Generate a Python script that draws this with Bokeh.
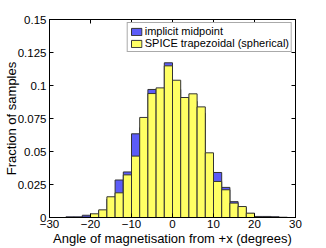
from bokeh.plotting import figure
from bokeh.models import LinearAxis, FixedTicker, CustomJSTickFormatter, Legend, LegendItem, Range1d
from bokeh.embed import file_html
from bokeh.resources import INLINE

# bin edges (degrees)
bin_left = [-26, -24, -22, -20, -18, -16, -14, -12, -10, -8, -6, -4, -2, 0,
            2, 4, 6, 8, 10, 12, 14, 16, 18, 20, 22, 24, 26, 28]
bin_right = [-24, -22, -20, -18, -16, -14, -12, -10, -8, -6, -4, -2, 0, 2,
             4, 6, 8, 10, 12, 14, 16, 18, 20, 22, 24, 26, 28, 30]

implicit_midpoint = [0.0005, 0.0005, 0.0017, 0.0022, 0.0050, 0.0140, 0.0284,
                     0.0345, 0.0634, 0.0680, 0.0970, 0.0900, 0.1172, 0.0970,
                     0.0850, 0.0880, 0.0790, 0.0450, 0.0341, 0.0228, 0.0120,
                     0.0075, 0.0030, 0.0008, 0.0008, 0.0006, 0.0002, 0.0]
spice_trapezoidal = [0.0, 0.0, 0.0003, 0.0028, 0.0058, 0.0157, 0.0187,
                     0.0323, 0.0465, 0.0758, 0.0939, 0.0982, 0.1149, 0.1040,
                     0.0909, 0.0937, 0.0838, 0.0490, 0.0273, 0.0210, 0.0109,
                     0.0083, 0.0033, 0.0, 0.0, 0.0, 0.0, 0.0]

x_ticks = [-30, -20, -10, 0, 10, 20, 30]
y_ticks = [0, 0.025, 0.05, 0.075, 0.1, 0.125, 0.15]
y_tick_labels = ["0", "0.025", "0.05", "0.075", "0.1", "0.125", "0.15"]

FONT = "Liberation Sans"

p = figure(width=326, height=248, output_backend="svg", toolbar_location=None,
           x_range=Range1d(-30, 30), y_range=Range1d(0, 0.15),
           min_border_left=49, min_border_top=19, min_border_right=31, min_border_bottom=31)
p.xgrid.visible = False
p.ygrid.visible = False
p.outline_line_color = "black"
p.outline_line_width = 1

zeros = [0] * len(bin_left)
r_blue = p.quad(left=bin_left, right=bin_right, bottom=zeros, top=implicit_midpoint,
                fill_color="#5c5cf8", line_color="#333333", line_width=1)
r_yel = p.quad(left=bin_left, right=bin_right, bottom=zeros, top=spice_trapezoidal,
               fill_color="#ffff64", line_color="#333333", line_width=1)

def style_axis(ax):
    ax.major_tick_in = 4
    ax.major_tick_out = 0
    ax.minor_tick_line_color = None
    ax.axis_line_color = "black"
    ax.major_tick_line_color = "black"
    ax.major_label_text_font = FONT
    ax.major_label_text_font_size = "11.5px"
    ax.major_label_text_color = "black"
    ax.axis_label_text_font = FONT
    ax.axis_label_text_font_size = "13px"
    ax.axis_label_text_font_style = "normal"
    ax.axis_label_text_color = "black"

xa = p.xaxis[0]
xa.ticker = FixedTicker(ticks=x_ticks)
xa.axis_label = "Angle of magnetisation from +x (degrees)"
style_axis(xa)
xa.major_label_standoff = 2
xa.axis_label_standoff = 0

ya = p.yaxis[0]
ya.ticker = FixedTicker(ticks=y_ticks)
ya.major_label_overrides = {t: l for t, l in zip(y_ticks, y_tick_labels)}
ya.axis_label = "Fraction of samples"
style_axis(ya)
ya.major_label_standoff = 3
ya.axis_label_standoff = -4

blank = CustomJSTickFormatter(code="return '';")
top = LinearAxis(ticker=FixedTicker(ticks=x_ticks), formatter=blank)
style_axis(top)
top.major_label_standoff = 0
p.add_layout(top, "above")
right = LinearAxis(ticker=FixedTicker(ticks=y_ticks), formatter=blank)
style_axis(right)
right.major_label_standoff = 0
p.add_layout(right, "right")

legend = Legend(items=[LegendItem(label="implicit midpoint", renderers=[r_blue]),
                       LegendItem(label="SPICE trapezoidal (spherical)", renderers=[r_yel])],
                location="top_right")
legend.label_text_font = FONT
legend.label_text_font_size = "11px"
legend.label_text_color = "black"
legend.glyph_width = 13
legend.glyph_height = 9
legend.label_height = 9
legend.label_standoff = 2
legend.spacing = -2
legend.padding = 2
legend.margin = 3
legend.border_line_color = "#555555"
legend.border_line_width = 1
legend.background_fill_alpha = 1
p.add_layout(legend)

open("out.html", "w").write(file_html(p, INLINE))
